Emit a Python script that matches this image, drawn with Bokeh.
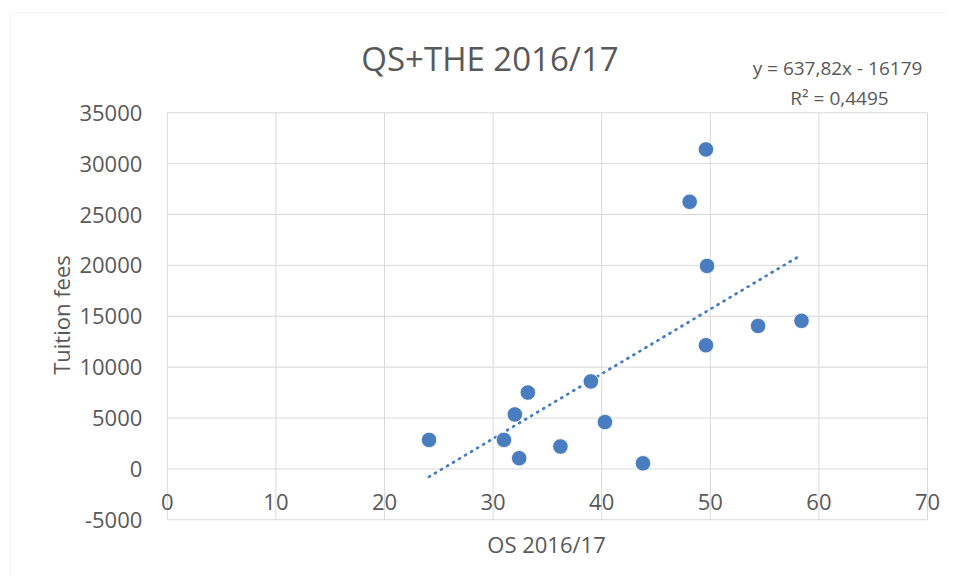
import math
import numpy as np
from bokeh.plotting import figure
from bokeh.models import (Range1d, FixedTicker, Label, BoxAnnotation, ColumnDataSource,
                          NumeralTickFormatter)
from bokeh.embed import file_html
from bokeh.resources import INLINE

# ---- data ----
os_scores = [24.1, 31.0, 32.4, 32.0, 33.2, 36.2, 39.0, 40.3, 43.8, 48.1, 49.6, 49.7, 49.6, 54.4, 58.4]
tuition_fees = [2850, 2850, 1050, 5350, 7500, 2200, 8600, 4600, 550, 26250, 31400, 19950, 12150, 14050, 14550]

x_ticks = [0, 10, 20, 30, 40, 50, 60, 70]
y_ticks = [-5000, 0, 5000, 10000, 15000, 20000, 25000, 30000, 35000]

chart_title = "QS+THE 2016/17"
x_title = "OS 2016/17"
y_title = "Tuition fees"
equation_text = "y = 637,82x - 16179"
r2_text = "R\u00b2 = 0,4495"

FONT = "Open Sans"
TXT = "#595959"
GRID = "#d9d9d9"
BLUE = "#4a7dbf"

# ---- layout: the plot frame covers the whole canvas; pixel <-> data helpers ----
W, H = 946, 576
X0_PX, X_PX_PER_UNIT = 166.8, 10.86      # pixel of x=0, pixels per x unit
Y0_PX, Y_PX_PER_UNIT = 468.4, 0.010175   # pixel of y=0, pixels per y unit


def dx(px):
    return (px - X0_PX) / X_PX_PER_UNIT


def dy(py):
    return (Y0_PX - py) / Y_PX_PER_UNIT


p = figure(width=W, height=H, output_backend="svg", toolbar_location=None,
           x_range=Range1d(dx(0), dx(W)), y_range=Range1d(dy(H), dy(0)),
           min_border_left=0, min_border_right=0, min_border_top=0, min_border_bottom=0)
p.outline_line_color = None
p.background_fill_color = "white"
p.border_fill_color = "white"
p.xgrid.visible = False
p.ygrid.visible = False

# gridlines of the plot area (from the tick lists)
xmin, xmax = x_ticks[0], x_ticks[-1]
ymin, ymax = y_ticks[0], y_ticks[-1]
p.segment(x0=x_ticks, y0=[ymin] * len(x_ticks), x1=x_ticks, y1=[ymax] * len(x_ticks),
          line_color=GRID, line_width=1)
p.segment(x0=[xmin] * len(y_ticks), y0=y_ticks, x1=[xmax] * len(y_ticks), y1=y_ticks,
          line_color=GRID, line_width=1)

# axes, crossing at 0
p.xaxis.fixed_location = 0
p.yaxis.fixed_location = 0
p.xaxis.ticker = FixedTicker(ticks=x_ticks)
p.yaxis.ticker = FixedTicker(ticks=y_ticks)
p.yaxis.formatter = NumeralTickFormatter(format="0")
for ax in (p.xaxis, p.yaxis):
    ax.axis_line_color = None
    ax.major_tick_line_color = None
    ax.minor_tick_line_color = None
    ax.major_label_text_font = FONT
    ax.major_label_text_font_size = "22px"
    ax.major_label_text_color = TXT
p.xaxis.major_label_standoff = 19
p.yaxis.major_label_standoff = 19

# trendline (least squares from data)
slope, intercept = np.polyfit(os_scores, tuition_fees, 1)
tx = [min(os_scores), max(os_scores)]
ty = [slope * v + intercept for v in tx]
p.line(tx, ty, line_color=BLUE, line_width=2.8, line_dash="1 6", line_cap="round")

# points
src = ColumnDataSource(dict(x=os_scores, y=tuition_fees))
p.scatter("x", "y", source=src, size=15.5, fill_color=BLUE, line_color="white", line_width=0.8)

# texts
def add_text(px, py, text, size, angle=0.0):
    p.add_layout(Label(x=dx(px), y=dy(py), text=text, text_font=FONT, text_font_size=size,
                       text_color=TXT, text_align="center", text_baseline="middle",
                       angle=angle))

add_text(489.5, 58, chart_title, "33px")
add_text(837, 67, equation_text, "19px")
add_text(839, 97, r2_text, "19px")
add_text(546, 543, x_title, "22px")
add_text(60, 314.5, y_title, "22px", angle=math.pi / 2)

# outer chart border
p.add_layout(BoxAnnotation(left=dx(10), right=dx(3000), top=dy(12), bottom=dy(3000),
                           fill_color=None, line_color=GRID, line_width=1.2, level="underlay"))

open("out.html", "w").write(file_html(p, INLINE))
